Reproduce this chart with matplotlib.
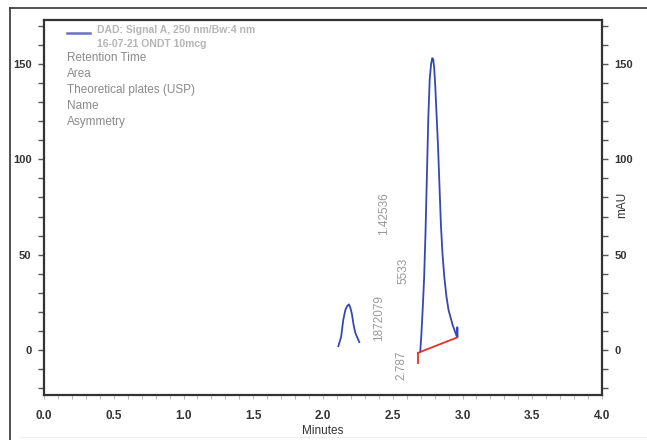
import matplotlib
matplotlib.use("Agg")
import matplotlib.pyplot as plt
from matplotlib.lines import Line2D
from matplotlib.ticker import MultipleLocator

plt.rcParams['font.family'] = ['Liberation Sans Narrow', 'Liberation Sans', 'DejaVu Sans']

# Chromatogram trace, minor peak (time in minutes, signal in mAU)
minor_t = [2.110, 2.130, 2.145, 2.160, 2.172, 2.186, 2.197, 2.207, 2.220, 2.232, 2.260]
minor_v = [2.1, 7.0, 15.7, 21.0, 23.0, 24.0, 22.0, 19.0, 13.0, 9.0, 4.2]

# Main peak
main_t = [2.697, 2.705, 2.715, 2.725, 2.735, 2.745, 2.755, 2.765, 2.775, 2.783,
          2.790, 2.797, 2.805, 2.815, 2.825, 2.835, 2.845, 2.857, 2.870, 2.885,
          2.900, 2.915, 2.930, 2.945, 2.955, 2.960, 2.963, 2.965]
main_v = [-0.9, 8.0, 22.0, 38.0, 62.0, 92.0, 122.0, 142.0, 150.0, 153.0,
          152.5, 148.0, 138.0, 122.0, 106.0, 86.0, 66.0, 50.0, 38.0, 28.0,
          21.0, 17.0, 13.0, 10.0, 8.0, 7.0, 12.0, 7.0]

# Integration baseline and start marker
base_t = [2.681, 2.960]
base_v = [-1.4, 6.6]
marker_v = [-6.8, -1.4]

# Peak results
retention_time = "2.787"
peak_area = "1872079"
plates_usp = "5533"
asymmetry = "1.42536"

legend_title = "DAD: Signal A, 250 nm/Bw:4 nm"
legend_sub = "16-07-21 ONDT 10mcg"
result_fields = ["Retention Time", "Area", "Theoretical plates (USP)", "Name", "Asymmetry"]

x_ticks = [0.0, 0.5, 1.0, 1.5, 2.0, 2.5, 3.0, 3.5, 4.0]
y_ticks = [0, 50, 100, 150]

W, H = 647, 440
fig = plt.figure(figsize=(W / 100, H / 100), dpi=100)
ax = fig.add_axes([44 / W, 1 - 395 / H, (602 - 44) / W, (395 - 20) / H])

trace_col = "#3548b2"
ax.plot(minor_t, minor_v, color=trace_col, lw=1.3)
ax.plot(main_t, main_v, color=trace_col, lw=1.3)
ax.plot(base_t, base_v, color="#e8302a", lw=1.3)
ax.plot([base_t[0], base_t[0]], marker_v, color="#e8302a", lw=1.3)

ax.set_xlim(0, 4.0)
ax.set_ylim(-23.5, 173)

for s in ax.spines.values():
    s.set_color("#333333")
    s.set_linewidth(1.6)

# x axis: labels every half minute, light ticks every 0.1 min
ax.set_xticks(x_ticks)
ax.set_xticklabels([f"{v:.1f}" for v in x_ticks], fontsize=8.5,
                   fontweight="bold", color="#333333")
ax.xaxis.set_minor_locator(MultipleLocator(0.1))
ax.tick_params(axis="x", which="both", direction="out", length=3, width=0.8,
               color="#bbbbbb", pad=8)

# y axis: labels on both sides, ticks every 10 mAU
ax.set_yticks(y_ticks)
ax.yaxis.set_minor_locator(MultipleLocator(10))
ax.tick_params(axis="y", which="both", direction="out", length=4, width=1.0,
               color="#555555", left=True, right=True, pad=5)
ax.tick_params(axis="y", which="major", labelleft=True, labelright=True)
for t in ax.yaxis.get_major_ticks():
    for lab in (t.label1, t.label2):
        lab.set_fontweight("bold")
        lab.set_fontsize(8)
        lab.set_color("#333333")

ax.set_xlabel("Minutes", fontsize=8.5, color="#333333", labelpad=2)
fig.text(622 / W, 1 - 205 / H, "mAU", rotation=90, ha="center", va="center",
         fontsize=8.5, color="#333333")

# Legend block
fig.add_artist(Line2D([67 / W, 90 / W], [1 - 33 / H, 1 - 33 / H], transform=fig.transFigure,
                      color="#6e6ecc", lw=1.8))
fig.text(97 / W, 1 - 30 / H, legend_title, fontsize=7.5, fontweight="bold",
         color="#b5b5b5", va="center")
fig.text(97 / W, 1 - 44 / H, legend_sub, fontsize=7.5, fontweight="bold",
         color="#b5b5b5", va="center")
for i, name in enumerate(result_fields):
    fig.text(67 / W, 1 - (58 + 16 * i) / H, name, fontsize=8.5, color="#8a8a8a", va="center")

# Peak result labels
lab_kw = dict(rotation=90, ha="center", va="center", fontsize=8.5, color="#999999")
ax.text(2.56, -8.0, retention_time, **lab_kw)
ax.text(2.40, 16.7, peak_area, **lab_kw)
ax.text(2.58, 41.8, plates_usp, **lab_kw)
ax.text(2.44, 71.6, asymmetry, **lab_kw)

# Outer page frame
fig.add_artist(Line2D([10 / W, 10 / W], [0, 1 - 8 / H], transform=fig.transFigure,
                      color="#333333", lw=1.2))
fig.add_artist(Line2D([10 / W, 1], [1 - 8 / H, 1 - 8 / H], transform=fig.transFigure,
                      color="#333333", lw=1.2))
fig.add_artist(Line2D([20 / W, 1], [1 - 437 / H, 1 - 437 / H], transform=fig.transFigure,
                      color="#eeeeee", lw=0.8))

fig.savefig("out.png", dpi=100)
